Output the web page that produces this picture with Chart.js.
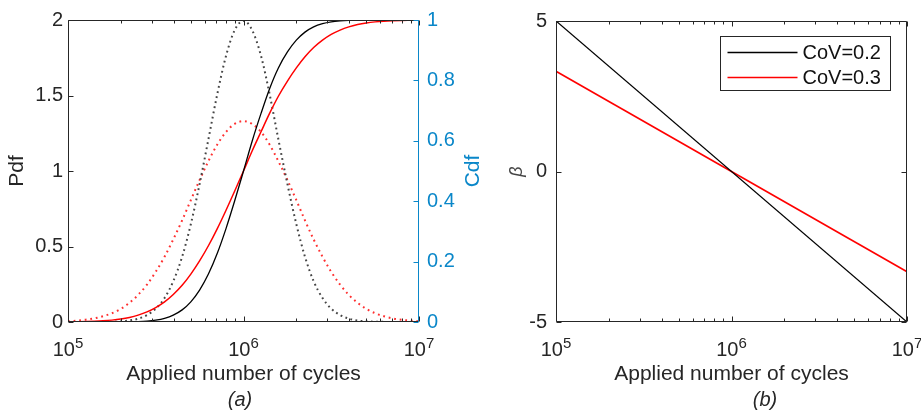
<!DOCTYPE html>
<html>
<head>
<meta charset="utf-8">
<script src="https://cdn.jsdelivr.net/npm/chart.js@4.4.0/dist/chart.umd.min.js"></script>
<style>
  html, body { margin: 0; padding: 0; background: #fff; }
  #wrap { position: relative; width: 921px; height: 412px; overflow: hidden; }
  #c1 { position: absolute; left: 0; top: 0; }
  #c2 { position: absolute; left: 470px; top: 0; }
</style>
</head>
<body>
<div id="wrap">
  <canvas id="c1" width="490" height="412"></canvas>
  <canvas id="c2" width="451" height="412"></canvas>
</div>
<script>
// applied number of cycles (x positions of the read points)
const cycles = [
  1.00e5, 1.12e5, 1.26e5, 1.41e5, 1.58e5, 1.78e5, 2.00e5, 2.24e5, 2.51e5, 2.82e5,
  3.16e5, 3.55e5, 3.98e5, 4.47e5, 5.01e5, 5.62e5, 6.31e5, 7.08e5, 7.94e5, 8.91e5,
  1.00e6,
  1.12e6, 1.26e6, 1.41e6, 1.58e6, 1.78e6, 2.00e6, 2.24e6, 2.51e6, 2.82e6, 3.16e6,
  3.55e6, 3.98e6, 4.47e6, 5.01e6, 5.62e6, 6.31e6, 7.08e6, 7.94e6, 8.91e6, 1.00e7
];
// pdf (dotted), left axis
const pdfCov02 = [
  0, 0, 0, 0, 0.001, 0.002, 0.004, 0.010, 0.022, 0.046,
  0.088, 0.159, 0.270, 0.432, 0.648, 0.913, 1.210, 1.506, 1.760, 1.933,
  1.995,
  1.933, 1.760, 1.506, 1.210, 0.913, 0.648, 0.432, 0.270, 0.159, 0.088,
  0.046, 0.022, 0.010, 0.004, 0.002, 0.001, 0, 0, 0, 0
];
const pdfCov03 = [
  0.005, 0.009, 0.015, 0.024, 0.038, 0.058, 0.087, 0.127, 0.180, 0.248,
  0.332, 0.432, 0.547, 0.673, 0.807, 0.940, 1.065, 1.174, 1.258, 1.312,
  1.330,
  1.312, 1.258, 1.174, 1.065, 0.940, 0.807, 0.673, 0.547, 0.432, 0.332,
  0.248, 0.180, 0.127, 0.087, 0.058, 0.038, 0.024, 0.015, 0.009, 0.005
];
// cdf (solid), right axis
const cdfCov02 = [
  0, 0, 0, 0.00001, 0.00003, 0.00009, 0.0002, 0.0006, 0.0013, 0.0030,
  0.0062, 0.0122, 0.0228, 0.0401, 0.0668, 0.1056, 0.1587, 0.2266, 0.3085, 0.4013,
  0.5,
  0.5987, 0.6915, 0.7734, 0.8413, 0.8944, 0.9332, 0.9599, 0.9772, 0.9878, 0.9938,
  0.9970, 0.9987, 0.9994, 0.9998, 0.9999, 1, 1, 1, 1, 1
];
const cdfCov03 = [
  0.0004, 0.0008, 0.0013, 0.0023, 0.0038, 0.0062, 0.0098, 0.0151, 0.0228, 0.0334,
  0.0478, 0.0668, 0.0912, 0.1217, 0.1587, 0.2023, 0.2525, 0.3085, 0.3694, 0.4338,
  0.5,
  0.5662, 0.6306, 0.6915, 0.7475, 0.7977, 0.8413, 0.8783, 0.9088, 0.9332, 0.9522,
  0.9666, 0.9772, 0.9849, 0.9902, 0.9938, 0.9962, 0.9977, 0.9987, 0.9992, 0.9996
];
// beta, panel (b)
const betaCycles = [1e5, 1e7];
const betaCov02 = [5, -5];
const betaCov03 = [3.33, -3.33];

const seriesLabels = ['CoV=0.2', 'CoV=0.3'];
const xTicks = [1e5, 1e6, 1e7];
const pdfTicks = [0, 0.5, 1, 1.5, 2];
const cdfTicks = [0, 0.2, 0.4, 0.6, 0.8, 1];
const betaTicks = [-5, 0, 5];

const FONT = "'Liberation Sans', Arial, Helvetica, sans-serif";
const AX = '#262626';
const BLUE = '#0a87c9';

Chart.defaults.font.family = FONT;
Chart.defaults.font.size = 20;
Chart.defaults.color = AX;

const pts = (xs, ys) => xs.map((x, i) => ({ x: x, y: ys[i] }));
const setTicks = list => s => { s.ticks = list.map(v => ({ value: v })); };
const noGrid = { display: false, drawTicks: false };

function xScale() {
  return {
    type: 'logarithmic', min: 1e5, max: 1e7,
    afterBuildTicks: setTicks(xTicks),
    afterFit: s => { s.height = 66; s.paddingLeft = 0; s.paddingRight = 0; },
    grid: noGrid, border: { display: false },
    // labels 10^n are drawn by the frame plugin (real superscript)
    ticks: { display: false },
    title: { display: true, text: 'Applied number of cycles', font: { size: 21 },
      padding: { top: 0, bottom: 1 } }
  };
}

// box + inward ticks like matlab, and power-of-ten labels
const frame = {
  id: 'frame',
  afterDatasetsDraw(chart, args, opts) {
    const { ctx, chartArea: a, scales } = chart;
    const L = Math.round(a.left) + 0.5, R = Math.round(a.right) - 0.5;
    const T = Math.round(a.top) + 0.5, B = Math.round(a.bottom) - 0.5;
    ctx.save();
    ctx.lineWidth = 1;
    ctx.strokeStyle = AX;
    ctx.beginPath();
    ctx.moveTo(R, T); ctx.lineTo(L, T); ctx.lineTo(L, B); ctx.lineTo(R, B);
    const x = scales.x;
    xTicks.forEach(v => {
      const p = Math.round(x.getPixelForValue(v)) + 0.5;
      ctx.moveTo(p, B); ctx.lineTo(p, B - 5);
      ctx.moveTo(p, T); ctx.lineTo(p, T + 5);
    });
    [1e5, 1e6].forEach(d => {
      for (let m = 2; m <= 9; m++) {
        const p = Math.round(x.getPixelForValue(m * d)) + 0.5;
        ctx.moveTo(p, B); ctx.lineTo(p, B - 3);
        ctx.moveTo(p, T); ctx.lineTo(p, T + 3);
      }
    });
    const y = scales.y;
    y.ticks.forEach(t => {
      const p = Math.round(y.getPixelForValue(t.value)) + 0.5;
      ctx.moveTo(L, p); ctx.lineTo(L + 5, p);
      if (!scales.y1) { ctx.moveTo(R, p); ctx.lineTo(R - 5, p); }
    });
    if (!scales.y1) { ctx.moveTo(R, T); ctx.lineTo(R, B); }
    ctx.stroke();
    if (scales.y1) {
      ctx.strokeStyle = BLUE;
      ctx.beginPath();
      ctx.moveTo(R, T - 0.5); ctx.lineTo(R, B + 0.5);
      scales.y1.ticks.forEach(t => {
        const p = Math.round(scales.y1.getPixelForValue(t.value)) + 0.5;
        ctx.moveTo(R, p); ctx.lineTo(R - 5, p);
      });
      ctx.stroke();
    }
    ctx.restore();
  },
  afterDraw(chart, args, opts) {
    const { ctx, chartArea: a, scales } = chart;
    ctx.save();
    ctx.fillStyle = AX;
    ctx.textBaseline = 'alphabetic';
    ctx.textAlign = 'left';
    xTicks.forEach(v => {
      const p = scales.x.getPixelForValue(v);
      const exp = String(Math.round(Math.log10(v)));
      ctx.font = '20px ' + FONT;
      const w1 = ctx.measureText('10').width;
      ctx.font = '15px ' + FONT;
      const w2 = ctx.measureText(exp).width;
      const x0 = p - (w1 + w2) / 2;
      ctx.font = '20px ' + FONT;
      ctx.fillText('10', x0, 356);
      ctx.font = '15px ' + FONT;
      ctx.fillText(exp, x0 + w1, 348);
    });
    ctx.textAlign = 'center';
    ctx.textBaseline = 'middle';
    ctx.font = 'italic 20px ' + FONT;
    ctx.fillText(opts.caption, opts.captionX, 400);
    if (opts.sideTitle) {
      ctx.translate(opts.sideX, (a.top + a.bottom) / 2);
      ctx.rotate(-Math.PI / 2);
      ctx.fillStyle = BLUE;
      ctx.font = '21px ' + FONT;
      ctx.fillText(opts.sideTitle, 0, 0);
    }
    ctx.restore();
  }
};

// legend box inside panel (b)
const boxLegend = {
  id: 'boxLegend',
  afterDraw(chart) {
    const { ctx, chartArea: a } = chart;
    const w = 170, h = 54;
    const bx = Math.round(a.right - 17 - w) + 0.5, by = Math.round(a.top + 15) + 0.5;
    ctx.save();
    ctx.fillStyle = '#fff';
    ctx.fillRect(bx, by, w, h);
    ctx.strokeStyle = AX;
    ctx.lineWidth = 1;
    ctx.strokeRect(bx, by, w, h);
    ctx.font = '20px ' + FONT;
    ctx.textBaseline = 'middle';
    ctx.textAlign = 'left';
    chart.data.datasets.forEach((ds, i) => {
      const ry = by + 16 + i * 25;
      ctx.strokeStyle = ds.borderColor;
      ctx.lineWidth = ds.borderWidth;
      ctx.beginPath();
      ctx.moveTo(bx + 7, ry); ctx.lineTo(bx + 77, ry);
      ctx.stroke();
      ctx.fillStyle = '#111';
      ctx.fillText(ds.label, bx + 82, ry + 1);
    });
    ctx.restore();
  }
};

// panel (a): pdf + cdf
new Chart(document.getElementById('c1'), {
  type: 'line',
  data: {
    datasets: [
      { label: 'Cdf ' + seriesLabels[0], data: pts(cycles, cdfCov02), yAxisID: 'y1',
        borderColor: '#000', borderWidth: 1.3, order: 1 },
      { label: 'Cdf ' + seriesLabels[1], data: pts(cycles, cdfCov03), yAxisID: 'y1',
        borderColor: '#ff0000', borderWidth: 1.5, order: 2 },
      { label: 'Pdf ' + seriesLabels[0], data: pts(cycles, pdfCov02), yAxisID: 'y',
        borderColor: '#454545', borderWidth: 2, borderDash: [1.8, 3.4], order: 3 },
      { label: 'Pdf ' + seriesLabels[1], data: pts(cycles, pdfCov03), yAxisID: 'y',
        borderColor: '#ff3030', borderWidth: 2, borderDash: [1.8, 3.8], order: 4 }
    ]
  },
  options: {
    responsive: false, animation: false, devicePixelRatio: 1,
    elements: { point: { radius: 0 }, line: { cubicInterpolationMode: 'monotone', fill: false } },
    layout: { padding: { top: 20, bottom: 24, left: 0, right: 0 } },
    plugins: {
      legend: { display: false }, tooltip: { enabled: false },
      frame: { caption: '(a)', captionX: 240, sideTitle: 'Cdf', sideX: 473 }
    },
    scales: {
      x: xScale(),
      y: {
        position: 'left', min: 0, max: 2,
        afterBuildTicks: setTicks(pdfTicks),
        afterFit: s => { s.width = 68; },
        grid: noGrid, border: { display: false },
        ticks: { padding: 5, callback: v => String(v) },
        title: { display: true, text: 'Pdf', font: { size: 21 }, padding: { top: 5, bottom: 0 } }
      },
      y1: {
        position: 'right', min: 0, max: 1,
        afterBuildTicks: setTicks(cdfTicks),
        afterFit: s => { s.width = 71; },
        grid: noGrid, border: { display: false },
        ticks: { padding: 8, color: BLUE, callback: v => String(v) }
      }
    }
  },
  plugins: [frame]
});

// panel (b): reliability index
new Chart(document.getElementById('c2'), {
  type: 'line',
  data: {
    datasets: [
      { label: seriesLabels[0], data: pts(betaCycles, betaCov02), borderColor: '#000', borderWidth: 1.3 },
      { label: seriesLabels[1], data: pts(betaCycles, betaCov03), borderColor: '#ff0000', borderWidth: 1.5 }
    ]
  },
  options: {
    responsive: false, animation: false, devicePixelRatio: 1,
    elements: { point: { radius: 0 }, line: { fill: false } },
    layout: { padding: { top: 20, bottom: 24, left: 0, right: 14 } },
    plugins: {
      legend: { display: false }, tooltip: { enabled: false },
      frame: { caption: '(b)', captionX: 295 }
    },
    scales: {
      x: xScale(),
      y: {
        position: 'left', min: -5, max: 5,
        afterBuildTicks: setTicks(betaTicks),
        afterFit: s => { s.width = 86; },
        grid: noGrid, border: { display: false },
        ticks: { padding: 9, callback: v => String(v) },
        title: { display: true, text: '\u03b2', color: '#444',
          font: { size: 18, style: 'italic' }, padding: { top: 36, bottom: 0 } }
      }
    }
  },
  plugins: [frame, boxLegend]
});
</script>
</body>
</html>
